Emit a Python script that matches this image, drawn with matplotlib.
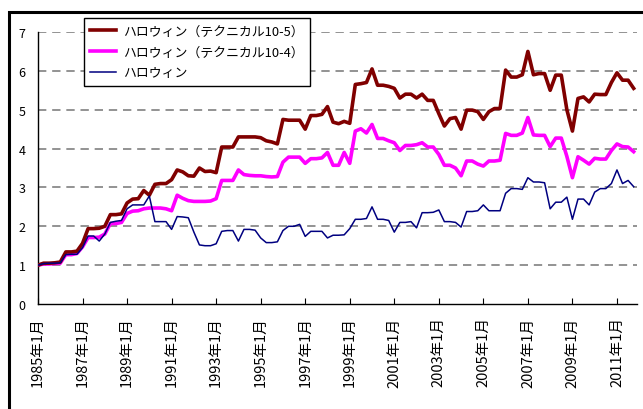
import matplotlib
matplotlib.use("Agg")
import matplotlib.pyplot as plt
from matplotlib.patches import Rectangle

plt.rcParams['font.family'] = ['Noto Sans CJK JP', 'DejaVu Sans']

# quarterly values, 1985Q1 .. 2011Q4 (one row per year)
tech_10_5 = [
    1.00, 1.05, 1.05, 1.06,
    1.08, 1.34, 1.34, 1.36,
    1.56, 1.94, 1.94, 1.95,
    2.00, 2.30, 2.30, 2.32,
    2.60, 2.70, 2.71, 2.92,
    2.80, 3.08, 3.10, 3.10,
    3.20, 3.45, 3.40, 3.30,
    3.29, 3.50, 3.41, 3.42,
    3.38, 4.04, 4.04, 4.04,
    4.30, 4.30, 4.30, 4.30,
    4.28, 4.20, 4.17, 4.12,
    4.75, 4.73, 4.73, 4.73,
    4.50, 4.85, 4.85, 4.88,
    5.08, 4.68, 4.64, 4.70,
    4.65, 5.65, 5.67, 5.70,
    6.05, 5.63, 5.63, 5.60,
    5.55, 5.30, 5.40, 5.40,
    5.30, 5.40, 5.24, 5.24,
    4.90, 4.58, 4.77, 4.80,
    4.50, 4.99, 4.99, 4.95,
    4.75, 4.95, 5.03, 5.03,
    6.02, 5.84, 5.84, 5.90,
    6.50, 5.90, 5.93, 5.93,
    5.50, 5.89, 5.89, 5.00,
    4.45, 5.29, 5.33, 5.20,
    5.40, 5.39, 5.39, 5.70,
    5.95, 5.76, 5.76, 5.55,
]

tech_10_4 = [
    1.00, 1.03, 1.03, 1.04,
    1.05, 1.27, 1.27, 1.30,
    1.47, 1.71, 1.71, 1.72,
    1.80, 2.07, 2.07, 2.10,
    2.33, 2.39, 2.40, 2.45,
    2.47, 2.47, 2.47, 2.45,
    2.40, 2.80, 2.72, 2.66,
    2.64, 2.64, 2.64, 2.65,
    2.71, 3.18, 3.18, 3.18,
    3.45, 3.33, 3.31, 3.30,
    3.30, 3.28, 3.27, 3.28,
    3.65, 3.78, 3.78, 3.78,
    3.62, 3.74, 3.74, 3.76,
    3.90, 3.57, 3.57, 3.90,
    3.62, 4.45, 4.51, 4.40,
    4.62, 4.26, 4.26, 4.20,
    4.15, 3.95, 4.08, 4.08,
    4.10, 4.15, 4.04, 4.04,
    3.85, 3.57, 3.57, 3.50,
    3.30, 3.68, 3.68, 3.60,
    3.55, 3.68, 3.68, 3.70,
    4.39, 4.34, 4.34, 4.40,
    4.80, 4.35, 4.34, 4.34,
    4.05, 4.27, 4.27, 3.80,
    3.25, 3.79, 3.70, 3.60,
    3.75, 3.73, 3.73, 3.95,
    4.12, 4.05, 4.04, 3.92,
]

halloween = [
    1.00, 1.04, 1.05, 1.05,
    1.06, 1.27, 1.28, 1.28,
    1.45, 1.75, 1.75, 1.62,
    1.80, 2.10, 2.13, 2.15,
    2.45, 2.55, 2.55, 2.55,
    2.78, 2.12, 2.12, 2.12,
    1.92, 2.25, 2.24, 2.22,
    1.85, 1.52, 1.50, 1.50,
    1.55, 1.87, 1.89, 1.89,
    1.62, 1.92, 1.92, 1.90,
    1.70, 1.58, 1.58, 1.60,
    1.89, 2.00, 2.00, 2.05,
    1.74, 1.87, 1.87, 1.87,
    1.70, 1.77, 1.77, 1.78,
    1.94, 2.18, 2.18, 2.20,
    2.50, 2.18, 2.18, 2.15,
    1.85, 2.10, 2.10, 2.12,
    1.96, 2.35, 2.35, 2.36,
    2.42, 2.12, 2.12, 2.10,
    1.98, 2.38, 2.38, 2.40,
    2.55, 2.40, 2.40, 2.40,
    2.85, 2.97, 2.97, 2.95,
    3.25, 3.14, 3.14, 3.12,
    2.45, 2.62, 2.62, 2.75,
    2.18, 2.70, 2.70, 2.55,
    2.88, 2.97, 2.97, 3.10,
    3.45, 3.10, 3.18, 3.02,
]

labels = ['ハロウィン（テクニカル10-5）', 'ハロウィン（テクニカル10-4）', 'ハロウィン']
tick_years = list(range(1985, 2012, 2))

x = list(range(len(halloween)))

fig = plt.figure(figsize=(6.43, 4.10), dpi=100)
ax = fig.add_axes([38 / 643, 1 - 305 / 410, (637 - 38) / 643, (305 - 33) / 410])

# outer chart frame
fig.patches.append(Rectangle((8.5 / 643, -0.1), 1.2, 1.1 - 12.5 / 410,
                             transform=fig.transFigure, fill=False,
                             edgecolor='black', lw=2.2))

ax.plot(x, tech_10_4, color='#FF00FF', lw=2.6, label=labels[1], zorder=3)
ax.plot(x, tech_10_5, color='#800000', lw=2.6, label=labels[0], zorder=4)
ax.plot(x, halloween, color='#000080', lw=1.1, label=labels[2], zorder=5)

ax.set_xlim(0, 107.6)
ax.set_ylim(0, 7)
ax.set_yticks(range(0, 8))
ax.set_xticks([(y - 1985) * 4 for y in tick_years])
ax.set_xticklabels([f'{y}年1月' for y in tick_years], rotation=90, fontsize=10.5)
ax.tick_params(axis='y', length=0, pad=9, labelsize=9)
ax.tick_params(axis='x', direction='in', length=4, width=0.8, pad=9)

for v in range(1, 8):
    ax.axhline(v, color='#808080', lw=1.2, dashes=(5, 3.5), zorder=1)

ax.spines['top'].set_visible(False)
ax.spines['right'].set_visible(False)
ax.spines['left'].set_linewidth(1.0)
ax.spines['bottom'].set_linewidth(1.0)

handles, labs = ax.get_legend_handles_labels()
order = [1, 0, 2]
leg = ax.legend([handles[i] for i in order], [labs[i] for i in order],
                loc='upper left', bbox_to_anchor=((84 - 38) / 599, (305 - 19) / 272),
                fontsize=9.3, frameon=True, fancybox=False, edgecolor='black',
                framealpha=1, borderpad=0.5, labelspacing=0.62,
                handlelength=2.0, handletextpad=0.5, borderaxespad=0)
leg.get_frame().set_linewidth(1.0)
leg.set_zorder(10)

fig.savefig('out.png', dpi=100)
